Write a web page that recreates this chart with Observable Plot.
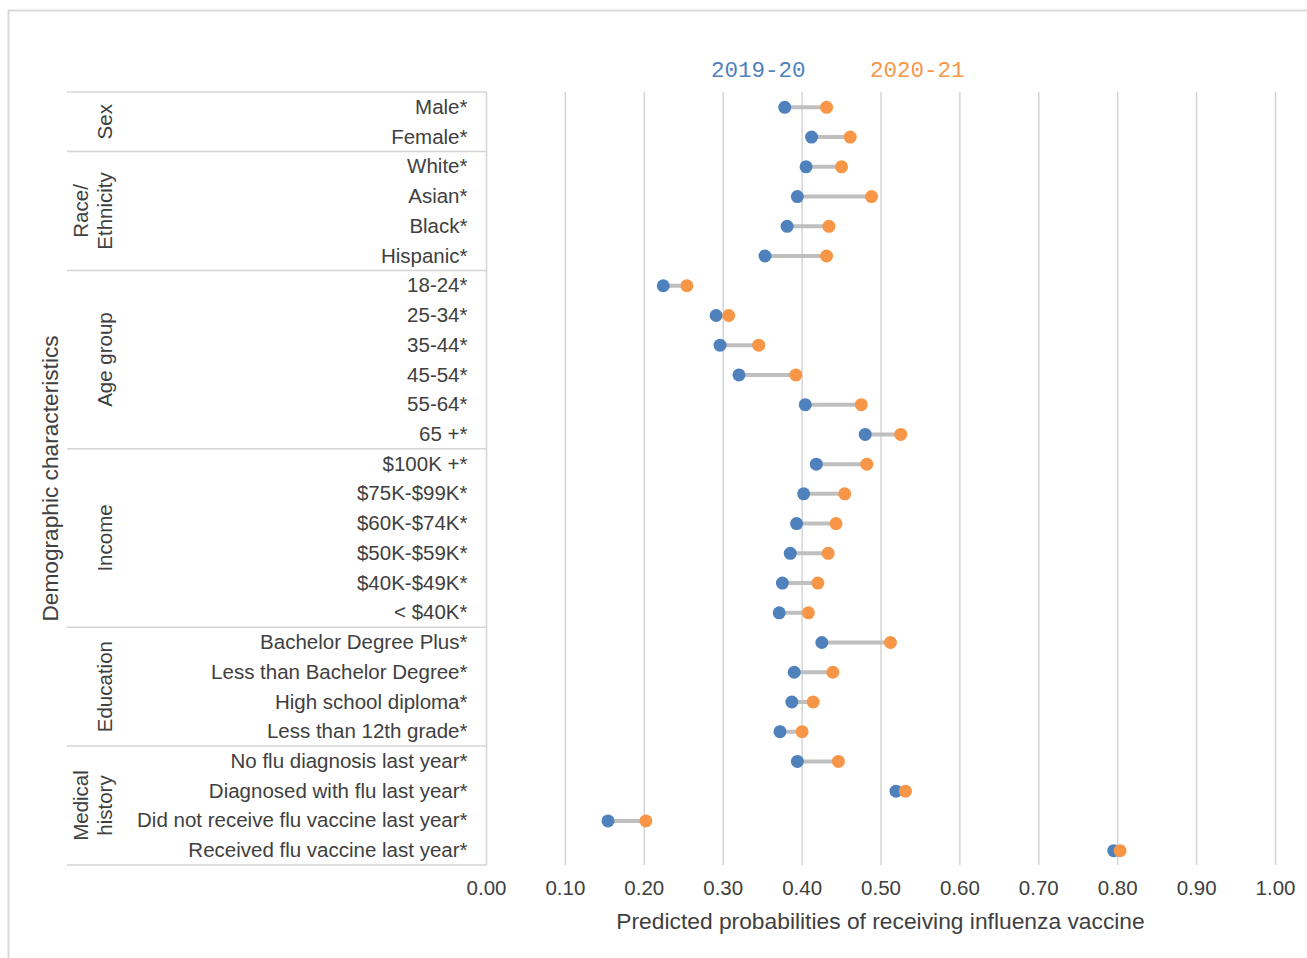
<!DOCTYPE html>
<html>
<head>
<meta charset="utf-8">
<script src="https://cdn.jsdelivr.net/npm/d3@7"></script>
<script src="https://cdn.jsdelivr.net/npm/@observablehq/plot@0.6"></script>
<style>
  body { margin: 0; background: #fff; }
  #chart { position: relative; width: 1307px; height: 958px; overflow: hidden; }
  #chart svg { display: block; }
</style>
</head>
<body>
<div id="chart"></div>
<script>
// ---- data ----
const categories = [
  "Male*", "Female*",
  "White*", "Asian*", "Black*", "Hispanic*",
  "18-24*", "25-34*", "35-44*", "45-54*", "55-64*", "65 +*",
  "$100K +*", "$75K-$99K*", "$60K-$74K*", "$50K-$59K*", "$40K-$49K*", "< $40K*",
  "Bachelor Degree Plus*", "Less than Bachelor Degree*", "High school diploma*", "Less than 12th grade*",
  "No flu diagnosis last year*", "Diagnosed with flu last year*", "Did not receive flu vaccine last year*", "Received flu vaccine last year*"
];
const v2019 = [
  0.378, 0.412,
  0.405, 0.394, 0.381, 0.353,
  0.224, 0.291, 0.296, 0.320, 0.404, 0.480,
  0.418, 0.402, 0.393, 0.385, 0.375, 0.371,
  0.425, 0.390, 0.387, 0.372,
  0.394, 0.519, 0.154, 0.795
];
const v2020 = [
  0.431, 0.461,
  0.450, 0.488, 0.434, 0.431,
  0.254, 0.307, 0.345, 0.392, 0.475, 0.525,
  0.482, 0.454, 0.443, 0.433, 0.420, 0.408,
  0.512, 0.439, 0.414, 0.400,
  0.446, 0.531, 0.202, 0.803
];
const groupNames = [["Sex"], ["Race/", "Ethnicity"], ["Age group"], ["Income"], ["Education"], ["Medical", "history"]];
const groupSizes = [2, 4, 6, 6, 4, 4];
const seriesNames = ["2019-20", "2020-21"];
const xTicks = [0, 0.1, 0.2, 0.3, 0.4, 0.5, 0.6, 0.7, 0.8, 0.9, 1.0];
const xTitle = "Predicted probabilities of receiving influenza vaccine";
const yTitle = "Demographic characteristics";

// ---- styling ----
const colors = ["#4f81bd", "#f79646"];
const textColor = "#404040";
const ruleColor = "#d4d4d4";

const rows = categories.map((c, i) => ({category: c, a: v2019[i], b: v2020[i]}));

const chart = Plot.plot({
  width: 1307,
  height: 958,
  marginLeft: 486,
  marginRight: 32,
  marginTop: 92,
  marginBottom: 93,
  style: {
    fontFamily: "'Liberation Sans', Arial, sans-serif",
    fontSize: "20.5px",
    color: textColor,
    background: "#fff",
    overflow: "visible"
  },
  x: {domain: [0, 1]},
  y: {type: "band", domain: categories, padding: 0, round: false},
  marks: [
    Plot.gridX(xTicks.slice(1), {stroke: ruleColor, strokeOpacity: 1, strokeWidth: 1.5}),
    Plot.ruleX([0], {stroke: ruleColor, strokeWidth: 1.5}),
    Plot.axisX({ticks: xTicks, tickFormat: d3.format(".2f"), tickSize: 0, tickPadding: 15, label: null}),
    Plot.axisY({tickSize: 0, tickPadding: 19, label: null}),
    Plot.link(rows, {x1: "a", x2: "b", y1: "category", y2: "category", stroke: "#bfbfbf", strokeWidth: 4}),
    Plot.dot(rows, {x: "a", y: "category", r: 6.5, fill: colors[0], stroke: "none"}),
    Plot.dot(rows, {x: "b", y: "category", r: 6.5, fill: colors[1], stroke: "none"})
  ]
});

document.getElementById("chart").appendChild(chart);

// ---- decorations derived from scales ----
const svg = d3.select(chart);
const ys = chart.scale("y");
const xs = chart.scale("x");
const bw = ys.bandwidth;
const tableLeft = 67;
const tableRight = xs.apply(0);

// outer frame
svg.insert("rect", ":first-child")
  .attr("x", 8.5).attr("y", 10.5).attr("width", 1320).attr("height", 970)
  .attr("fill", "none").attr("stroke", "#d9d9d9").attr("stroke-width", 2);

const deco = svg.append("g");
let idx = 0;
const bounds = [ys.apply(categories[0])];
groupSizes.forEach((n, gi) => {
  const y0 = ys.apply(categories[idx]);
  const y1 = ys.apply(categories[idx + n - 1]) + bw;
  bounds.push(y1);
  const mid = (y0 + y1) / 2;
  const lines = groupNames[gi];
  lines.forEach((t, li) => {
    const cx = lines.length === 1 ? 104 : (li === 0 ? 80 : 104);
    deco.append("text")
      .attr("transform", `translate(${cx},${mid}) rotate(-90)`)
      .attr("text-anchor", "middle")
      .attr("dominant-baseline", "central")
      .attr("fill", textColor)
      .attr("font-size", 20.5)
      .text(t);
  });
  idx += n;
});
bounds.forEach(y => {
  deco.append("line")
    .attr("x1", tableLeft).attr("x2", tableRight)
    .attr("y1", y).attr("y2", y)
    .attr("stroke", ruleColor).attr("stroke-width", 1.5);
});

// y title
const yMid = (bounds[0] + bounds[bounds.length - 1]) / 2;
deco.append("text")
  .attr("transform", `translate(50,${yMid}) rotate(-90)`)
  .attr("text-anchor", "middle")
  .attr("dominant-baseline", "central")
  .attr("fill", textColor)
  .attr("font-size", 22.7)
  .text(yTitle);

// x title
deco.append("text")
  .attr("x", (xs.apply(0) + xs.apply(1)) / 2)
  .attr("y", 929)
  .attr("text-anchor", "middle")
  .attr("fill", textColor)
  .attr("font-size", 22.8)
  .text(xTitle);

// legend
const legendX = [711, 870];
seriesNames.forEach((s, i) => {
  deco.append("text")
    .attr("x", legendX[i]).attr("y", 77)
    .attr("text-anchor", "start")
    .attr("fill", colors[i])
    .attr("font-family", "'Liberation Mono', 'DejaVu Sans Mono', monospace")
    .attr("font-size", 22.5)
    .text(s);
});
</script>
</body>
</html>
